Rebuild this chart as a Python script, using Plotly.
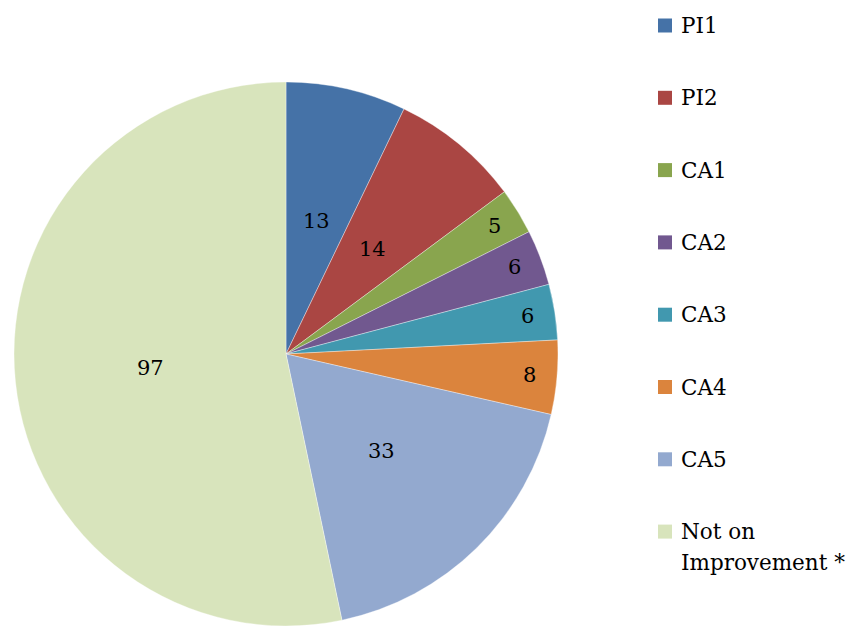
import math
import plotly.graph_objects as go

labels = ["PI1", "PI2", "CA1", "CA2", "CA3", "CA4", "CA5", "Not on<br>Improvement *"]
values = [13, 14, 5, 6, 6, 8, 33, 97]
colors = ["#4572A7", "#AA4643", "#89A54E", "#71588F", "#4198AF", "#DB843D", "#93A9CF", "#D8E4BC"]

W, H = 859, 626
FONT = "DejaVu Serif"

# pie geometry (pixels)
CX, CY, R = 286, 354, 272

fig = go.Figure()
fig.add_trace(go.Pie(
    labels=labels,
    values=values,
    marker=dict(colors=colors, line=dict(width=0.6, color="rgba(255,255,255,0.6)")),
    sort=False,
    direction="clockwise",
    rotation=0,
    textinfo="none",
    domain=dict(x=[(CX - R) / W, (CX + R) / W], y=[1 - (CY + R) / H, 1 - (CY - R) / H]),
    showlegend=False,
    hoverinfo="label+value",
))

annotations = []
# data labels: placed at slice mid-angle, larger slices nearer the middle
total = sum(values)
cum = 0
for v in values:
    mid = (cum + v / 2) / total * 2 * math.pi
    cum += v
    frac = 0.5 if v >= 10 else 0.9
    px = CX + frac * R * math.sin(mid)
    py = CY - frac * R * math.cos(mid)
    annotations.append(dict(
        x=px / W, y=1 - py / H, xref="paper", yref="paper",
        xanchor="center", yanchor="middle", text=str(v), showarrow=False,
        font=dict(family=FONT, size=21, color="black"),
    ))

# manual legend (square + text)
shapes = []
x0, sq = 658, 14
y_first, step = 25.5, 72.3
line_gap = 31
for i, (lab, col) in enumerate(zip(labels, colors)):
    yc = y_first + i * step
    shapes.append(dict(
        type="rect", xref="paper", yref="paper",
        x0=x0 / W, x1=(x0 + sq) / W,
        y0=1 - (yc + sq / 2) / H, y1=1 - (yc - sq / 2) / H,
        fillcolor=col, line=dict(width=0),
    ))
    for k, part in enumerate(lab.split("<br>")):
        annotations.append(dict(
            x=679 / W, y=1 - (yc + k * line_gap) / H,
            xref="paper", yref="paper",
            xanchor="left", yanchor="middle",
            text=part, showarrow=False,
            font=dict(family=FONT, size=21.5, color="black"),
        ))

fig.update_layout(
    width=W, height=H,
    margin=dict(l=0, r=0, t=0, b=0),
    paper_bgcolor="white",
    plot_bgcolor="white",
    shapes=shapes,
    annotations=annotations,
)

fig.write_html(
    "out.html",
    config={"displayModeBar": False},
    post_script="document.body.style.margin='0';document.body.style.padding='0';",
)
